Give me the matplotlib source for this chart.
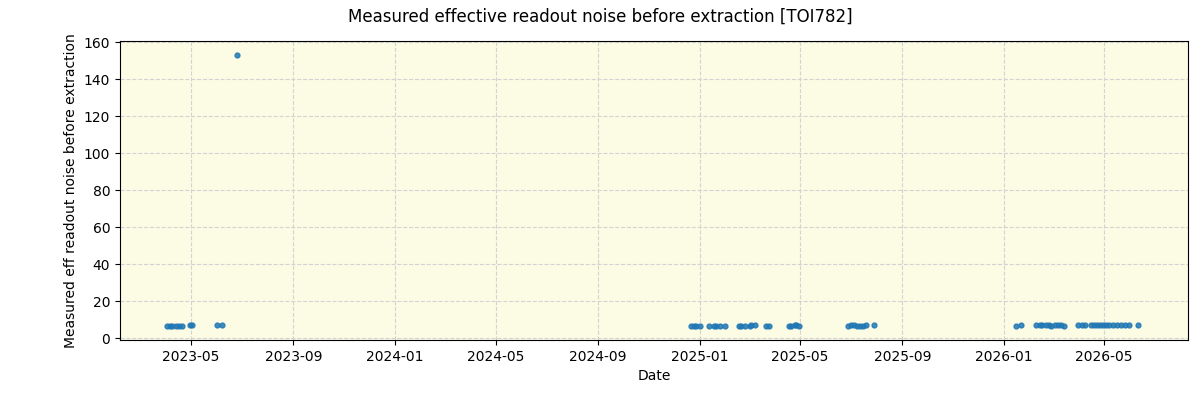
import matplotlib
matplotlib.use('Agg')
import matplotlib.pyplot as plt
import matplotlib.dates as mdates
import numpy as np
import pandas as pd

dates = [
    '2023-04-02', '2023-04-06', '2023-04-09', '2023-04-13', '2023-04-17', '2023-04-20',
    '2023-04-30', '2023-05-03', '2023-06-01', '2023-06-08', '2023-06-25',
    '2024-12-21', '2024-12-25', '2024-12-28', '2025-01-01', '2025-01-12',
    '2025-01-18', '2025-01-21', '2025-01-25', '2025-01-31',
    '2025-02-17', '2025-02-20', '2025-02-24', '2025-03-02', '2025-03-04', '2025-03-08',
    '2025-03-22', '2025-03-25',
    '2025-04-18', '2025-04-21', '2025-04-25', '2025-04-27', '2025-04-30',
    '2025-06-28', '2025-07-02', '2025-07-05', '2025-07-09', '2025-07-12', '2025-07-16',
    '2025-07-20', '2025-07-29',
    '2026-01-16', '2026-01-21',
    '2026-02-09', '2026-02-13', '2026-02-16', '2026-02-20', '2026-02-24', '2026-02-27',
    '2026-03-03', '2026-03-07', '2026-03-10', '2026-03-14',
    '2026-03-31', '2026-04-05', '2026-04-08',
    '2026-04-15', '2026-04-19', '2026-04-23', '2026-04-26', '2026-04-30', '2026-05-04',
    '2026-05-07', '2026-05-12', '2026-05-17', '2026-05-22', '2026-05-26', '2026-05-31',
    '2026-06-11',
]
noise = [
    6.6, 6.5, 6.7, 6.6, 6.8, 6.6,
    6.9, 7.2, 7.1, 7.0, 153.2,
    6.6, 6.8, 6.6, 6.7, 6.8,
    6.5, 6.7, 6.6, 6.7,
    6.8, 6.6, 6.5, 6.7, 7.0, 7.1,
    6.7, 6.6,
    6.6, 6.7, 6.9, 7.2, 6.6,
    6.6, 6.9, 7.1, 6.7, 6.5, 6.8,
    7.0, 7.2,
    6.6, 7.1,
    7.2, 7.0, 7.3, 6.9, 7.2, 6.8,
    7.0, 7.3, 7.0, 6.6,
    7.1, 7.0, 7.1,
    7.0, 7.2, 7.1, 6.9, 7.0, 7.1,
    7.0, 7.2, 7.0, 7.1, 7.0, 7.1,
    7.1,
]

x = pd.to_datetime(dates)

fig = plt.figure(figsize=(12, 4), dpi=100)
ax = fig.add_axes([0.1, 0.15, 0.89, 0.7475])
ax.set_facecolor('#fcfbe3')
ax.grid(True, color='lightgray', linestyle='--', linewidth=0.8)
ax.set_axisbelow(True)

ax.plot(x, noise, 'o', color='tab:blue', markersize=3.5, alpha=0.85)

ax.set_xlim(pd.Timestamp('2023-02-05'), pd.Timestamp('2026-08-10'))
ax.set_ylim(-1.0, 160.6)
ax.set_yticks(np.arange(0, 161, 20))
ax.xaxis.set_major_locator(mdates.MonthLocator(bymonth=[1, 5, 9]))
ax.xaxis.set_major_formatter(mdates.DateFormatter('%Y-%m'))

ax.set_xlabel('Date')
ax.set_ylabel('Measured eff readout noise before extraction')
fig.suptitle('Measured effective readout noise before extraction [TOI782]', fontsize=12, y=0.98)

fig.savefig('out.png')
